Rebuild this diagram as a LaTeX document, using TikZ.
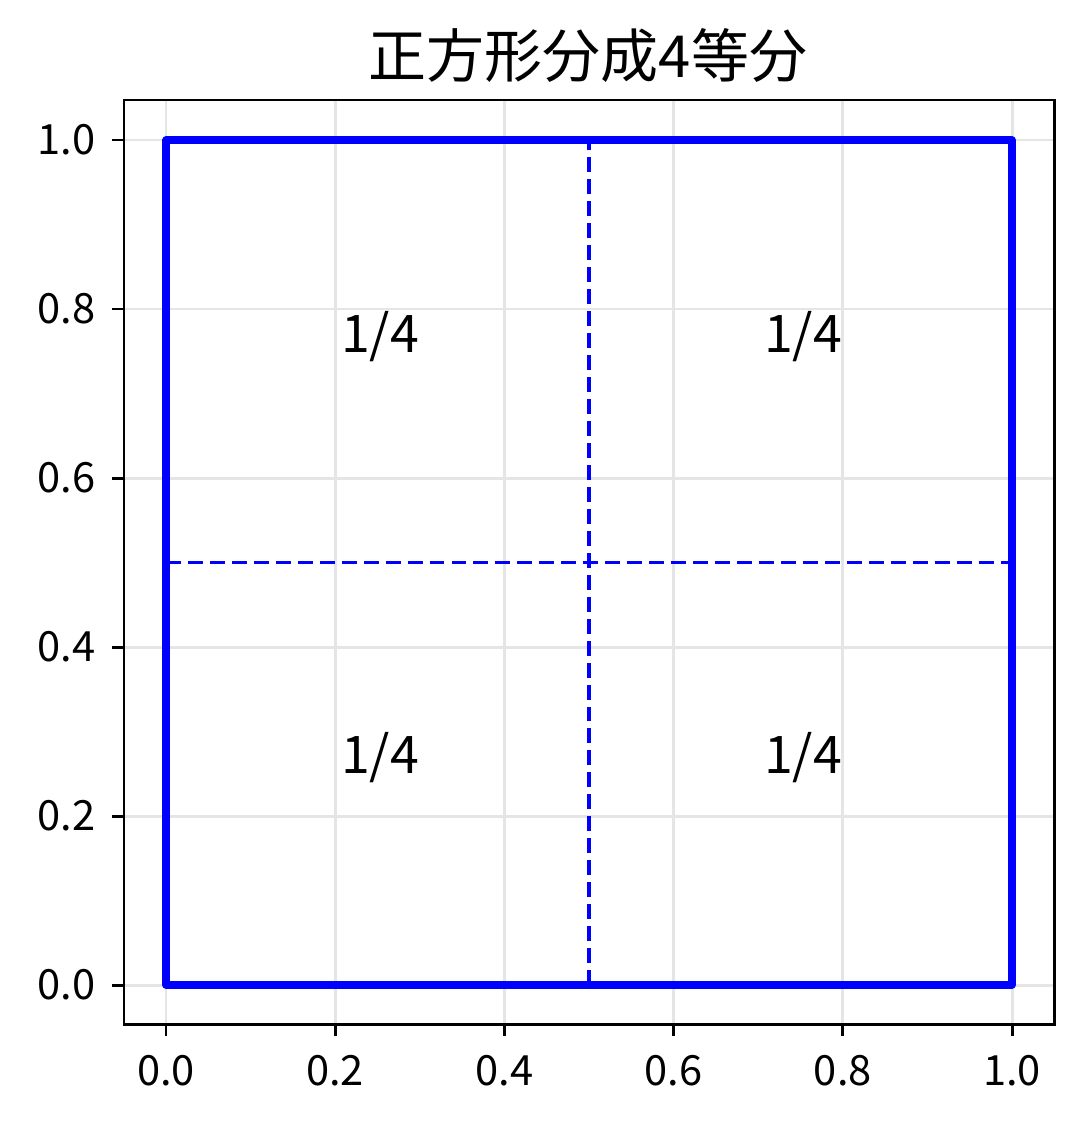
\documentclass[tikz,border=0pt]{standalone}
\usepackage{fontspec}
\setmainfont{Noto Sans CJK JP}
\begin{document}
\begin{tikzpicture}[
    x=0.02cm, y=-0.02cm,
    % Styles
    gridline/.style={draw=black!10, line width=1.7pt},
    frameline/.style={draw=black, line width=1.7pt},
    tickmark/.style={draw=black, line width=1.7pt},
    ticklabel/.style={font=\fontsize{23.7}{26}\selectfont, inner sep=0pt},
    squareline/.style={draw=blue, line width=4pt, line join=round, line cap=rect},
    cutline/.style={draw=blue, line width=2.2pt, dash pattern=on 8.5pt off 4pt},
    partlabel/.style={font=\fontsize{29.5}{32}\selectfont, inner sep=0pt},
    titlelabel/.style={font=\fontsize{33}{36}\selectfont, inner sep=0pt}
]
\useasboundingbox[fill=white] (0,0) rectangle (1084,1123);

% --- Title ---
\node[titlelabel] (title) at (588,56) {正方形分成4等分};

% --- Grid ---
\foreach \i in {0,...,5} {
    \draw[gridline] ({166+169.2*\i},100) -- ({166+169.2*\i},1024);
    \draw[gridline] (124,{985-169*\i}) -- (1054,{985-169*\i});
}

% --- Square corners ---
\coordinate (sw) at (166,985);
\coordinate (se) at (1012,985);
\coordinate (ne) at (1012,140);
\coordinate (nw) at (166,140);
\coordinate (midS) at (589,985);
\coordinate (midN) at (589,140);
\coordinate (midW) at (166,562.5);
\coordinate (midE) at (1012,562.5);

% --- Cuts ---
\draw[cutline] (midS) -- (midN);
\draw[cutline] (midW) -- (midE);

% --- Square ---
\draw[squareline] (sw) -- (se) -- (ne) -- (nw) -- cycle;

% --- Quarter labels ---
\node[partlabel] (qNW) at (380,337) {1/4};
\node[partlabel] (qNE) at (803,337) {1/4};
\node[partlabel] (qSW) at (380,758) {1/4};
\node[partlabel] (qSE) at (803,758) {1/4};

% --- Axes frame ---
\draw[frameline] (124,100) rectangle (1054,1024);

% --- Ticks ---
\foreach \i/\t in {0/0.0,1/0.2,2/0.4,3/0.6,4/0.8,5/1.0} {
    \draw[tickmark] ({166+169.2*\i},1024) -- ({166+169.2*\i},1036);
    \node[ticklabel, anchor=north] (xt\i) at ({166+169.2*\i},1055) {\t};
    \draw[tickmark] (112,{985-169*\i}) -- (124,{985-169*\i});
    \node[ticklabel, anchor=east] (yt\i) at (96,{985-169*\i}) {\t};
}
\end{tikzpicture}
\end{document}
